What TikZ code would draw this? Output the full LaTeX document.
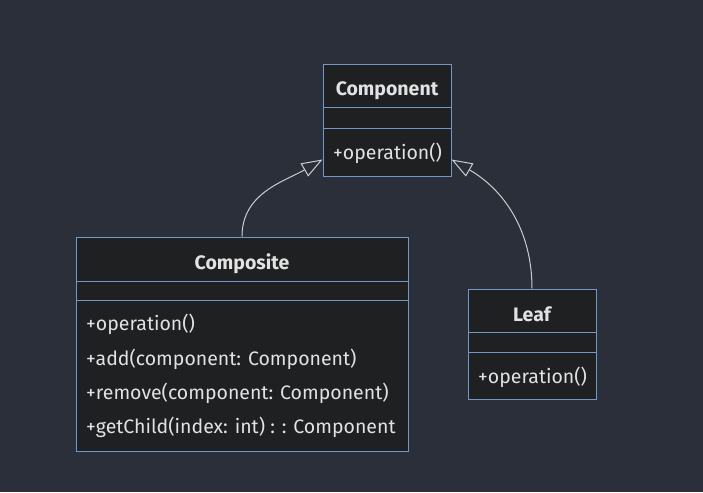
\documentclass[tikz,border=0pt]{standalone}
\usepackage{fontspec}
\setmainfont{Fira Sans}
\usetikzlibrary{arrows.meta}

\definecolor{bgcol}{RGB}{43,47,58}
\definecolor{boxfill}{RGB}{31,32,33}
\definecolor{boxline}{RGB}{112,152,200}
\definecolor{txtcol}{RGB}{226,226,226}
\definecolor{linkcol}{RGB}{204,204,204}

\begin{document}
\begin{tikzpicture}[x=1pt,y=-1pt] % pixel grid
\tikzset{%
  >={Triangle[open,length=21pt,width=15pt]}, % hollow inheritance tip
  classbox/.style={draw=boxline,fill=boxfill,line width=1pt,inner sep=0pt},
  classname/.style={text=txtcol,font=\fontsize{19.5}{22}\selectfont\bfseries,
    yshift=-2pt},
  member/.style={text=txtcol,font=\fontsize{19.5}{22}\selectfont,anchor=west,
    inner sep=0pt},
  sepline/.style={draw=boxline,line width=1pt},
  inherit/.style={draw=linkcol,line width=1pt,->}
}
%% some definitions

\def\compX{387} % center of Component
\def\compositeX{242} % center of Composite
\def\leafX{532} % center of Leaf

%% background

\fill[bgcol] (0,0) rectangle (703,492);
\useasboundingbox (0,0) rectangle (703,492);

%% Component

\node[classbox,minimum width=128pt,minimum height=111pt] (component)
    at (\compX,120.5) {};
\node[classname] (componentname) at (\compX,89) {Component};
\draw[sepline] (component.west |- 0,108) -- (component.east |- 0,108);
\draw[sepline] (component.west |- 0,128) -- (component.east |- 0,128);
\node[member] (componentop) at (333,153) {+operation()};

%% Composite

\node[classbox,minimum width=332pt,minimum height=214pt] (composite)
    at (\compositeX,344) {};
\node[classname] (compositename) at (\compositeX,262) {Composite};
\draw[sepline] (composite.west |- 0,281) -- (composite.east |- 0,281);
\draw[sepline] (composite.west |- 0,300) -- (composite.east |- 0,300);
\node[member] (compositeop) at (86,324) {+operation()};
\node[member] (compositeadd) at (86,359) {+add(component: Component)};
\node[member] (compositeremove) at (86,393) {+remove(component: Component)};
\node[member] (compositechild) at (86,427)
    {+getChild(index: int) : : Component};

%% Leaf

\node[classbox,minimum width=128pt,minimum height=110pt] (leaf)
    at (\leafX,344) {};
\node[classname] (leafname) at (\leafX,312) {Leaf};
\draw[sepline] (leaf.west |- 0,332) -- (leaf.east |- 0,332);
\draw[sepline] (leaf.west |- 0,352) -- (leaf.east |- 0,352);
\node[member] (leafop) at (478,377) {+operation()};

%% inheritance links

\draw[inherit] (composite.north) to[out=90,in=210]
    ([yshift=17pt]component.south west);
\draw[inherit] (leaf.north) to[out=90,in=-30]
    ([yshift=17pt]component.south east);
\end{tikzpicture}
\end{document}
